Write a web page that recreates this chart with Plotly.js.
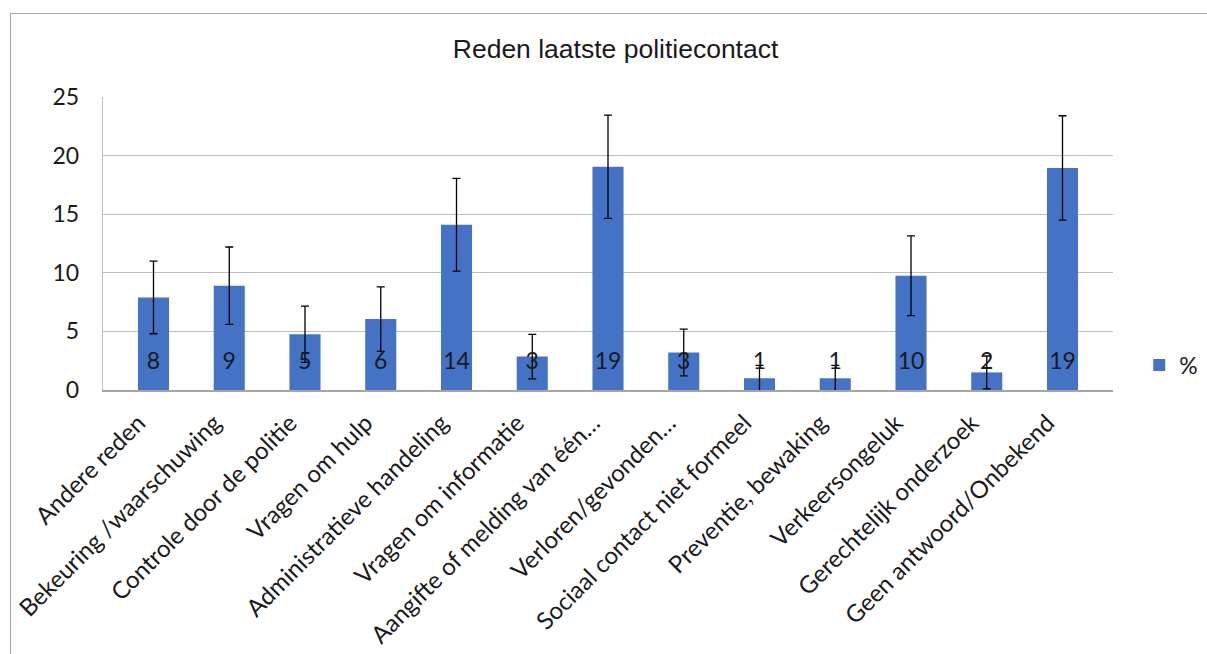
<!DOCTYPE html>
<html>
<head>
<meta charset="utf-8">
<script src="https://cdn.plot.ly/plotly-3.0.1.min.js"></script>
<style>
  html, body { margin: 0; padding: 0; background: #fff; }
  #frame { position: absolute; left: 10px; top: 13px; width: 1210px; height: 660px;
           border-left: 1.5px solid #a6a6a6; border-top: 1.5px solid #a6a6a6; pointer-events: none; z-index: 5; }
  #chart { position: absolute; left: 0; top: 0; width: 1207px; height: 654px; }
</style>
</head>
<body>
<div id="chart"></div>
<div id="frame"></div>
<script>
const categories = [
  "Andere reden",
  "Bekeuring /waarschuwing",
  "Controle door de politie",
  "Vragen om hulp",
  "Administratieve handeling",
  "Vragen om informatie",
  "Aangifte of melding van één…",
  "Verloren/gevonden…",
  "Sociaal contact niet formeel",
  "Preventie, bewaking",
  "Verkeersongeluk",
  "Gerechtelijk onderzoek",
  "Geen antwoord/Onbekend"
];
const values = [7.9, 8.9, 4.75, 6.05, 14.1, 2.85, 19.05, 3.2, 1.0, 1.0, 9.75, 1.5, 18.95];
const errors = [3.1, 3.3, 2.4, 2.75, 3.95, 1.9, 4.4, 2.0, 1.1, 1.1, 3.4, 1.4, 4.45];
const valueLabels = ["8", "9", "5", "6", "14", "3", "19", "3", "1", "1", "10", "2", "19"];
const seriesName = "%";
const chartTitle = "Reden laatste politiecontact";
const yTicks = [0, 5, 10, 15, 20, 25];

const labelFont = "Lato, 'Open Sans', sans-serif";

const barTrace = {
  type: "bar",
  x: categories,
  y: values,
  name: seriesName,
  marker: { color: "#4472C4" },
  error_y: { type: "data", array: errors, visible: true, color: "#000000", thickness: 1.3, width: 4 },
  hoverinfo: "x+y"
};

const labelTrace = {
  type: "scatter",
  mode: "text",
  x: categories,
  y: categories.map(() => 2.3),
  text: valueLabels,
  textposition: "middle center",
  textfont: { family: labelFont, size: 23, color: "#1a1a1a" },
  showlegend: false,
  hoverinfo: "skip",
  cliponaxis: false
};

const layout = {
  width: 1207,
  height: 654,
  paper_bgcolor: "#ffffff",
  plot_bgcolor: "#ffffff",
  margin: { l: 103, r: 94, t: 97, b: 264, autoexpand: false },
  title: {
    text: chartTitle,
    font: { family: "'Liberation Sans', Arial, sans-serif", size: 26.5, color: "#1a1a1a" },
    x: 0.51, xanchor: "center", xref: "container",
    y: 50, yref: "container", yanchor: "middle"
  },
  bargap: 0.59,
  xaxis: {
    type: "category",
    tickangle: -45,
    tickfont: { family: labelFont, size: 24, color: "#1a1a1a" },
    showline: true, linecolor: "#a6a6a6", linewidth: 1.5,
    showgrid: false, ticks: "", automargin: false,
    ticklabelstandoff: 8, ticklabelshift: -15
  },
  yaxis: {
    range: [0, 25],
    tickvals: yTicks,
    tickfont: { family: labelFont, size: 23, color: "#1a1a1a" },
    showgrid: true, gridcolor: "#bfbfbf", gridwidth: 1.3,
    showline: true, linecolor: "#bfbfbf", linewidth: 1.3,
    zeroline: false, ticks: "", ticklabelstandoff: 18, automargin: false
  },
  showlegend: true,
  legend: {
    x: 1.026, xanchor: "left", y: 0.085, yanchor: "middle",
    font: { family: labelFont, size: 23, color: "#1a1a1a" },
    bgcolor: "rgba(0,0,0,0)"
  }
};

Plotly.newPlot("chart", [barTrace, labelTrace], layout, { displayModeBar: false, staticPlot: true });
</script>
</body>
</html>
